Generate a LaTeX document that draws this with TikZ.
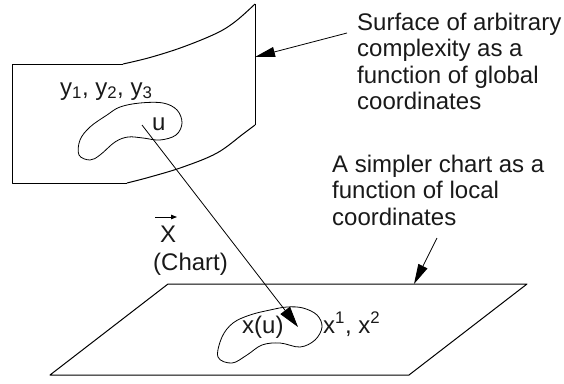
\documentclass[tikz,border=0pt]{standalone}
\usepackage{fontspec}
\setmainfont{Liberation Sans}
\usetikzlibrary{arrows.meta,calc}
\begin{document}
\begin{tikzpicture}[x=1pt,y=-1pt,
  edge/.style={line width=1pt,black,line join=round},
  thin/.style={line width=0.8pt,black},
  head/.style={-{Triangle[length=20pt,width=10pt]}},
  lbl/.style={inner sep=0pt,anchor=base west,font=\fontsize{24}{26.3}\selectfont,text=black!90},
  blk/.style={inner sep=0pt,anchor=north west,align=left,font=\fontsize{24}{26.3}\selectfont,text=black!90}]
\useasboundingbox (0,0) rectangle (564,383);
% curved surface
\draw[edge] (123,64) -- (12,64) -- (12,183) -- (127,183);
\draw[edge] plot[smooth,tension=0.6] coordinates {(123,64) (150,57.5) (183,47) (217,33) (236,21) (255,4)};
\draw[edge] (255,4) -- (255,125);
\draw[edge] plot[smooth,tension=0.6] coordinates {(255,125) (243,134) (217,153) (183,167) (150,177) (127,183)};
% plane
\draw[edge] (168,284) -- (527,284) -- (409,375) -- (50,375) -- cycle;
% blobs
\draw[thin] plot[smooth cycle,tension=0.6] coordinates {(140,103) (163,103) (177,110) (182,123) (176,135) (160,140) (143,138) (128,137) (115,142) (100,155) (90,160) (79,155) (80,140) (90,127) (107,115) (120,107)};
\draw[thin] plot[smooth cycle,tension=0.6] coordinates {(218,357) (232,363) (247,355) (262,345) (280,343) (300,347) (315,340) (322,327) (317,315) (303,308) (287,307) (270,310) (250,315) (233,323) (222,337)};
% labels
\node[lbl] (y) at (60,95) {y\textsubscript{1}, y\textsubscript{2}, y\textsubscript{3}};
\node[lbl] (u) at (152,130) {u};
\node[lbl] (xu) at (242,333) {x(u)};
\node[lbl] (xx) at (323,333) {x\textsuperscript{1}, x\textsuperscript{2}};
\node[lbl] (X) at (160,242) {X};
\node[lbl] (chart) at (153,270) {(Chart)};
\draw[thin,-{Triangle[length=6pt,width=4.5pt]}] ($(X.base west)+(-5,-25)$) coordinate (va) -- ($(X.base west)+(17,-25)$) coordinate (vb);
\node[blk] (surf) at (357,13) {Surface of arbitrary\\complexity as a\\function of global\\coordinates};
\node[blk] (simp) at (332,155) {A simpler chart as a\\function of local\\coordinates};
% connectors
\coordinate (t1) at (347,33);
\coordinate (s1) at (255,57);
\draw[thin,head] (t1) -- (s1);
\coordinate (t2) at (437,238);
\coordinate (s2) at (414,284);
\draw[thin,head] (t2) -- (s2);
\coordinate (u0) at (142,125);
\coordinate (x0) at (298,327);
\draw[thin,-{Triangle[length=21pt,width=12pt]}] (u0) -- (x0);
\end{tikzpicture}
\end{document}
